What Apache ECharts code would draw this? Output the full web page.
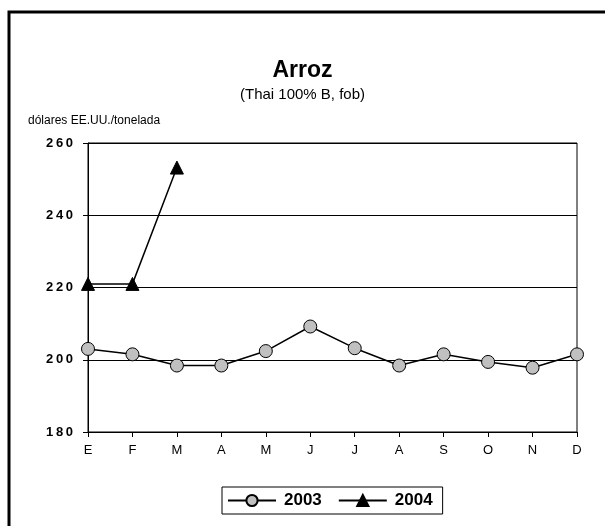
<!DOCTYPE html>
<html>
<head>
<meta charset="utf-8">
<script src="https://cdn.jsdelivr.net/npm/echarts@6/dist/echarts.min.js"></script>
<style>
  html, body { margin: 0; padding: 0; background: #fff; }
  #chart { width: 605px; height: 526px; }
</style>
</head>
<body>
<div id="chart"></div>
<script>
// meses (eje x)
const months = ['E', 'F', 'M', 'A', 'M', 'J', 'J', 'A', 'S', 'O', 'N', 'D'];
// precios
const arroz2003 = [203, 201.5, 198.4, 198.4, 202.4, 209.2, 203.2, 198.4, 201.5, 199.4, 197.8, 201.5];
const arroz2004 = [221, 221, 253.2];
const yTicks = [180, 200, 220, 240, 260];

const myChart = echarts.init(document.getElementById('chart'), null, { renderer: 'canvas' });

const option = {
  animation: false,
  textStyle: { fontFamily: 'Liberation Sans, Arial, sans-serif', color: '#000' },
  graphic: [
    {
      type: 'rect',
      shape: { x: 9, y: 12, width: 700, height: 600 },
      style: { fill: 'none', stroke: '#000', lineWidth: 3 }
    },
    {
      type: 'text',
      left: 28, top: 115,
      style: { text: 'dólares EE.UU./tonelada', font: '12px Liberation Sans', fill: '#000' }
    }
  ],
  title: {
    text: 'Arroz',
    subtext: '(Thai 100% B, fob)',
    left: 'center',
    top: 54,
    itemGap: 5,
    textStyle: { fontSize: 23, fontWeight: 'bold', color: '#000', fontFamily: 'Liberation Sans' },
    subtextStyle: { fontSize: 15, color: '#000', fontFamily: 'Liberation Sans' }
  },
  grid: { left: 88, right: 28, top: 143, bottom: 94, show: true, borderColor: '#000', borderWidth: 1 },
  xAxis: {
    type: 'category',
    data: months,
    boundaryGap: false,
    axisLine: { lineStyle: { color: '#000', width: 1 } },
    axisTick: { show: true, length: 5, lineStyle: { color: '#000' } },
    axisLabel: { color: '#000', fontSize: 13, margin: 12, fontFamily: 'Liberation Sans' },
    splitLine: { show: false }
  },
  yAxis: {
    type: 'value',
    min: yTicks[0],
    max: yTicks[yTicks.length - 1],
    interval: 20,
    axisLine: { show: true, lineStyle: { color: '#000', width: 1 } },
    axisTick: { show: true, length: 5, lineStyle: { color: '#000' } },
    axisLabel: {
      color: '#000', fontSize: 13, fontWeight: 'bold', margin: 15,
      fontFamily: 'Liberation Sans',
      formatter: v => String(v).split('').join('\u2009')
    },
    splitLine: { show: true, lineStyle: { color: '#000', width: 1 } }
  },
  legend: {
    left: 222,
    top: 487,
    itemWidth: 48,
    itemHeight: 14,
    itemGap: 16,
    padding: [5, 10, 5, 5],
    borderColor: '#000',
    borderWidth: 1,
    textStyle: { fontSize: 17, fontWeight: 'bold', color: '#000', fontFamily: 'Liberation Sans', padding: [0, 0, 0, 3] },
    data: ['2003', '2004']
  },
  series: [
    {
      name: '2003',
      type: 'line',
      data: arroz2003,
      symbol: 'circle',
      symbolSize: 13,
      lineStyle: { color: '#000', width: 1.5 },
      itemStyle: { color: '#c0c0c0', borderColor: '#000', borderWidth: 1 },
      z: 3
    },
    {
      name: '2004',
      type: 'line',
      data: arroz2004,
      symbol: 'triangle',
      symbolSize: 13,
      lineStyle: { color: '#000', width: 1.5 },
      itemStyle: { color: '#000', borderColor: '#000', borderWidth: 1 },
      z: 4
    }
  ]
};

myChart.setOption(option);
</script>
</body>
</html>
